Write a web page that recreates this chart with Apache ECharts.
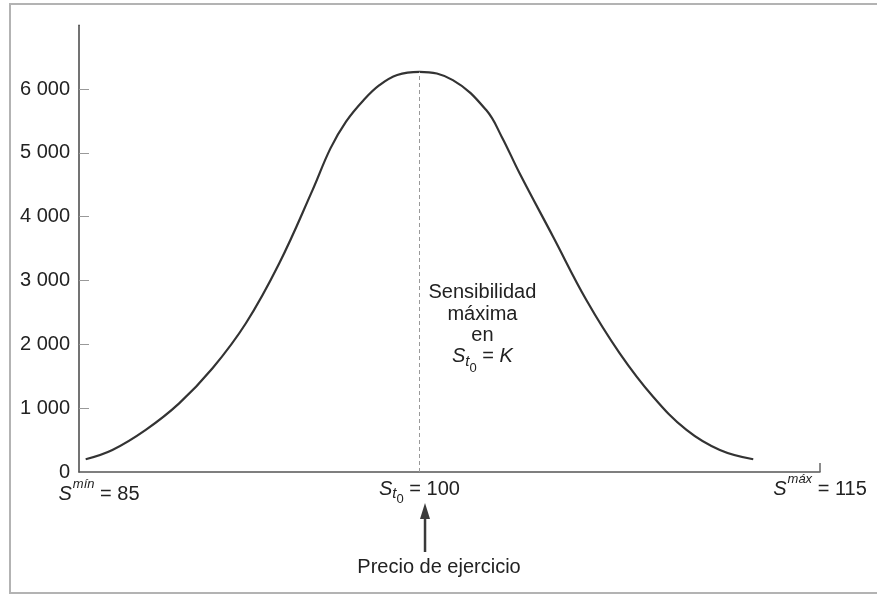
<!DOCTYPE html>
<html>
<head>
<meta charset="utf-8">
<script src="https://cdn.jsdelivr.net/npm/echarts@6/dist/echarts.min.js"></script>
<style>
html, body { margin: 0; padding: 0; background: #fff; }
#chart { width: 877px; height: 596px; }
</style>
</head>
<body>
<div id="chart"></div>
<script>
// precio del subyacente S y sensibilidad
var sValues = [85.0, 86.2, 87.7, 89.2, 90.7, 92.2, 93.7, 95.2, 96.0, 96.7, 97.5, 98.2, 99.0,
  100.0, 101.5, 103.0, 103.7, 104.5, 106.0, 107.5, 109.0, 110.5, 112.0, 113.5, 115.0];
var sensValues = [200, 345, 660, 1075, 1625, 2330, 3270, 4420, 5070, 5490, 5830, 6060, 6220,
  6270, 6140, 5670, 5250, 4680, 3690, 2695, 1860, 1180, 660, 345, 200];
var yTicks = [0, 1000, 2000, 3000, 4000, 5000, 6000];
var strike = 100;
var peak = 6270;
var xLabelPos = [85.6, 100, 118];
var xLabelText = [
  '{s1|S}{sup1|mín}{n1| = 85}',
  '{s|S}{sub|t}{sub0|0}{n| = 100}',
  '{s|S}{sup|máx}{n| = 115}'
];
var noteText = '{a|Sensibilidad}\n{a|máxima}\n{a|en}\n{as|S}{asub|t}{asub0|0}{a2| = }{as|K}';
var notePos = [102.83, 2300];
var arrowX = 100.25;

var FONT = '"Liberation Sans", Arial, sans-serif';
var TXT = '#222';

var chart = echarts.init(document.getElementById('chart'));

var option = {
  animation: false,
  grid: { left: 79, right: 57, top: 25.2, bottom: 124, outerBoundsMode: 'none' },
  xAxis: {
    type: 'value',
    min: 84.7,
    max: 118,
    splitLine: { show: false },
    axisLine: { lineStyle: { color: '#555', width: 1.5 } },
    axisTick: { inside: true, length: 9, customValues: [118], lineStyle: { color: '#666', width: 1.5 } },
    axisLabel: {
      customValues: xLabelPos,
      margin: 1,
      formatter: function (v) {
        var i = xLabelPos.indexOf(v);
        return i >= 0 ? xLabelText[i] : '';
      },
      rich: {
        s: { fontFamily: FONT, fontSize: 20, lineHeight: 20, fontStyle: 'italic', color: TXT, verticalAlign: 'top', padding: [6, 0, 0, 0] },
        n: { fontFamily: FONT, fontSize: 20, lineHeight: 20, color: TXT, verticalAlign: 'top', padding: [6, 0, 0, 0] },
        sup: { fontFamily: FONT, fontSize: 13, lineHeight: 13, fontStyle: 'italic', color: TXT, verticalAlign: 'top', padding: [0, 0, 0, 1] },
        sub: { fontFamily: FONT, fontSize: 15, lineHeight: 15, fontStyle: 'italic', color: TXT, verticalAlign: 'top', padding: [13, 0, 0, 0] },
        sub0: { fontFamily: FONT, fontSize: 13, lineHeight: 13, color: TXT, verticalAlign: 'top', padding: [20, 0, 0, 0] },
        s1: { fontFamily: FONT, fontSize: 20, lineHeight: 20, fontStyle: 'italic', color: TXT, verticalAlign: 'top', padding: [11, 0, 0, 0] },
        n1: { fontFamily: FONT, fontSize: 20, lineHeight: 20, color: TXT, verticalAlign: 'top', padding: [11, 0, 0, 0] },
        sup1: { fontFamily: FONT, fontSize: 13, lineHeight: 13, fontStyle: 'italic', color: TXT, verticalAlign: 'top', padding: [5, 0, 0, 1] }
      }
    }
  },
  yAxis: {
    type: 'value',
    min: 0,
    max: 7000,
    interval: 1000,
    splitLine: { show: false },
    axisLine: { show: true, lineStyle: { color: '#444', width: 1.5 } },
    axisTick: { show: true, inside: true, length: 10, customValues: [1000, 2000, 3000, 4000, 5000, 6000], lineStyle: { color: '#999', width: 1 } },
    axisLabel: {
      customValues: yTicks,
      margin: 9,
      fontFamily: FONT,
      fontSize: 20,
      color: TXT,
      formatter: function (v) {
        return v >= 1000 ? Math.floor(v / 1000) + ' 000' : String(v);
      }
    }
  },
  series: [
    {
      type: 'line',
      data: sValues.map(function (s, i) { return [s, sensValues[i]]; }),
      smooth: 0.4,
      symbol: 'none',
      clip: false,
      lineStyle: { color: '#333', width: 2.2 },
      markLine: {
        silent: true,
        symbol: 'none',
        label: { show: false },
        lineStyle: { color: '#999', width: 1, type: [4, 3] },
        data: [[{ coord: [strike, 0] }, { coord: [strike, peak] }]]
      }
    },
    {
      type: 'scatter',
      data: [notePos],
      symbolSize: 0,
      silent: true,
      itemStyle: { opacity: 1, color: 'transparent' },
      label: {
        show: true,
        position: 'inside',
        align: 'center',
        verticalAlign: 'middle',
        opacity: 1,
        formatter: noteText,
        rich: {
          a: { fontFamily: FONT, fontSize: 20, lineHeight: 21.5, color: TXT },
          a2: { fontFamily: FONT, fontSize: 20, lineHeight: 21.5, color: TXT, verticalAlign: 'top' },
          as: { fontFamily: FONT, fontSize: 20, lineHeight: 21.5, fontStyle: 'italic', color: TXT, verticalAlign: 'top' },
          asub: { fontFamily: FONT, fontSize: 15, lineHeight: 15, fontStyle: 'italic', color: TXT, verticalAlign: 'top', padding: [8, 0, 0, 0] },
          asub0: { fontFamily: FONT, fontSize: 13, lineHeight: 13, color: TXT, verticalAlign: 'top', padding: [15, 0, 0, 0] }
        }
      }
    }
  ]
};

chart.setOption(option);

// flecha y rótulo del precio de ejercicio, bajo el eje
var base = chart.convertToPixel({ gridIndex: 0 }, [arrowX, 0]);
var ax = base[0], ay = base[1];
chart.setOption({
  graphic: [
    {
      type: 'rect',
      shape: { x: 10, y: 4, width: 880, height: 589 },
      style: { fill: 'none', stroke: '#b3b3b3', lineWidth: 2 },
      silent: true
    },
    {
      type: 'line',
      shape: { x1: ax, y1: ay + 44, x2: ax, y2: ay + 80 },
      style: { stroke: '#3a3a3a', lineWidth: 2.5 },
      silent: true
    },
    {
      type: 'polygon',
      shape: { points: [[ax, ay + 31], [ax - 5, ay + 47], [ax + 5, ay + 47]] },
      style: { fill: '#3a3a3a' },
      silent: true
    },
    {
      type: 'text',
      x: ax + 14,
      y: ay + 95,
      style: {
        text: 'Precio de ejercicio',
        font: '20px ' + FONT,
        fill: TXT,
        align: 'center',
        verticalAlign: 'middle'
      },
      silent: true
    }
  ]
});
</script>
</body>
</html>
